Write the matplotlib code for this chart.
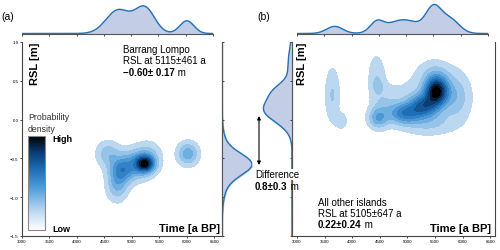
import numpy as np
import matplotlib
matplotlib.use("Agg")
import matplotlib.pyplot as plt
from matplotlib.colors import LinearSegmentedColormap
from matplotlib.cm import ScalarMappable

plt.rcParams["font.family"] = ["Liberation Sans", "DejaVu Sans"]

# ---- data ----
# 2D density, panel (a) Barrang Lompo: mixture components
a_age = [5240, 5050, 4800, 4560, 4730, 5300, 6020]
a_rsl = [-0.57, -0.58, -0.66, -0.44, -0.86, -0.45, -0.44]
a_sd_age = [110, 230, 140, 140, 130, 160, 130]
a_sd_rsl = [0.07, 0.13, 0.11, 0.11, 0.13, 0.12, 0.10]
a_w = [1.0, 0.5, 0.45, 0.30, 0.35, 0.20, 0.45]

# 2D density, panel (b) all other islands
b_age = [5530, 5300, 4950, 4470, 5300, 5900, 5500, 4440, 4600, 4470, 3640, 3810, 5400]
b_rsl = [0.37, 0.18, 0.08, 0.02, 0.25, 0.30, 0.60, 0.55, 0.20, 0.43, 0.32, -0.02, -0.05]
b_sd_age = [140, 180, 190, 120, 500, 160, 200, 100, 150, 70, 90, 80, 300]
b_sd_rsl = [0.12, 0.10, 0.09, 0.09, 0.25, 0.20, 0.12, 0.20, 0.15, 0.05, 0.24, 0.08, 0.10]
b_w = [1.0, 0.6, 0.5, 0.35, 0.12, 0.20, 0.15, 0.16, 0.12, 0.08, 0.19, 0.12, 0.15]

# marginal densities (centre, spread, height)
a_top_age = [4760, 5250, 6020]
a_top_sd = [220, 180, 130]
a_top_h = [23, 25, 12.5]
a_side_rsl = [-0.575, -0.60]
a_side_sd = [0.13, 0.25]
a_side_h = [22, 8]
b_top_age = [3690, 4460, 4950, 5500, 5800]
b_top_sd = [150, 120, 300, 140, 170]
b_top_h = [7, 9.5, 13.5, 23, 14]
b_side_rsl = [0.13, 0.38, 0.70]
b_side_sd = [0.16, 0.10, 0.20]
b_side_h = [28, 10, 4]

age_ticks = [3000, 3500, 4000, 4500, 5000, 5500, 6000, 6500]
rsl_ticks = [-1.5, -1.0, -0.5, 0.0, 0.5, 1.0]

W, H = 500, 251
line_col = "#2272b5"
fill_col = "#c3cde6"
cmap = LinearSegmentedColormap.from_list(
    "bk", [(0.0, "#ffffff"), (0.2, "#bcd8f0"), (0.45, "#4f9cd9"),
           (0.65, "#1a6cb4"), (0.83, "#0b3a70"), (1.0, "#000000")])


def box(left, top, right, bottom):
    return [left / W, 1 - bottom / H, (right - left) / W, (bottom - top) / H]


def mix1(x, c, s, h):
    y = np.zeros_like(x)
    for ci, si, hi in zip(c, s, h):
        y += hi * np.exp(-(x - ci) ** 2 / (2 * si ** 2))
    return y


def mix2(X, Y, ax_, ay_, sx, sy, w):
    Z = np.zeros_like(X)
    for cx, cy, s1, s2, wi in zip(ax_, ay_, sx, sy, w):
        Z += wi * np.exp(-(X - cx) ** 2 / (2 * s1 ** 2) - (Y - cy) ** 2 / (2 * s2 ** 2))
    return Z


gx, gy = np.meshgrid(np.linspace(2800, 6800, 400), np.linspace(-1.8, 1.3, 400))


def density(ax, comps, lo=0.06):
    Z = mix2(gx, gy, *comps)
    lv = np.linspace(lo, 1.0, 11) * Z.max()
    cols = [cmap(v) for v in np.linspace(0.2, 1.0, len(lv) - 1)]
    ax.contourf(gx, gy, Z, levels=lv, colors=cols, zorder=1)


fig = plt.figure(figsize=(5, 2.51), dpi=100)

# ---- panel (a) ----
axA = fig.add_axes(box(22, 43, 222, 237))
density(axA, (a_age, a_rsl, a_sd_age, a_sd_rsl, a_w))
axA.set_xlim(3000, 6640)
axA.set_ylim(-1.5, 1.0)
axA.spines["top"].set_visible(False)
axA.set_xticks(age_ticks)
axA.set_yticks(rsl_ticks)
axA.tick_params(labelsize=3.2, length=1.5, width=0.5, pad=1)
axA.tick_params(axis="y", labelright=False, right=False)
for s in axA.spines.values():
    s.set_linewidth(0.8)
    s.set_color("#444444")

axAt = fig.add_axes(box(22, 4, 213, 34.5))
xs = np.linspace(3000, 6500, 400)
yt = mix1(xs, a_top_age, a_top_sd, a_top_h)
axAt.fill_between(xs, 0, yt, color=fill_col)
axAt.plot(xs, yt, color=line_col, lw=1)
axAt.set_xlim(3000, 6500)
axAt.set_ylim(0, 30)

axAs = fig.add_axes(box(222, 43, 252, 237))
ys = np.linspace(-1.5, 1.0, 400)
xa = mix1(ys, a_side_rsl, a_side_sd, a_side_h)
axAs.fill_betweenx(ys, 0, xa, color=fill_col)
axAs.plot(xa, ys, color=line_col, lw=1)
axAs.set_xlim(0, 30)
axAs.set_ylim(-1.5, 1.0)

# ---- panel (b) ----
axB = fig.add_axes(box(292, 43, 495, 237))
density(axB, (b_age, b_rsl, b_sd_age, b_sd_rsl, b_w))
axB.set_xlim(2909, 6587)
axB.set_ylim(-1.5, 1.0)
axB.spines["top"].set_visible(False)
axB.set_xticks(age_ticks)
axB.set_yticks([])
axB.tick_params(labelsize=3.2, length=1.5, width=0.5, pad=1)
for s in axB.spines.values():
    s.set_linewidth(0.8)
    s.set_color("#444444")

axBt = fig.add_axes(box(297, 4, 488, 34.5))
yb = mix1(xs, b_top_age, b_top_sd, b_top_h)
axBt.fill_between(xs, 0, yb, color=fill_col)
axBt.plot(xs, yb, color=line_col, lw=1)
axBt.set_xlim(3000, 6500)
axBt.set_ylim(0, 30)

axBs = fig.add_axes(box(262, 43, 292, 237))
xb = mix1(ys, b_side_rsl, b_side_sd, b_side_h)
axBs.fill_betweenx(ys, 0, xb, color=fill_col)
axBs.plot(xb, ys, color=line_col, lw=1)
axBs.set_xlim(30, 0)
axBs.set_ylim(-1.5, 1.0)

for ax in (axAt, axBt):
    ax.patch.set_alpha(0)
    for k in ("top", "left", "right"):
        ax.spines[k].set_visible(False)
    ax.spines["bottom"].set_color("#555555")
    ax.spines["bottom"].set_linewidth(0.8)
    ax.set_xticks(age_ticks)
    ax.set_xticklabels([])
    ax.set_yticks([])
    ax.tick_params(length=1.5, width=0.5)

for ax, side in ((axAs, "left"), (axBs, "right")):
    ax.patch.set_alpha(0)
    for k in ("top", "bottom", "left", "right"):
        ax.spines[k].set_visible(k == side)
    ax.spines[side].set_color("#555555")
    ax.spines[side].set_linewidth(0.8)
    ax.set_xticks([])
    ax.set_yticks(rsl_ticks)
    ax.set_yticklabels([])
    ax.tick_params(axis="y", direction="in", length=1.5, width=0.5,
                   left=(side == "left"), right=(side == "right"))

# colour bar
cax = fig.add_axes(box(28, 137, 45, 231))
cb = fig.colorbar(ScalarMappable(cmap=cmap), cax=cax, ticks=[])
cb.outline.set_edgecolor("#888888")
cb.outline.set_linewidth(0.8)


# ---- text ----
def tx(px, py, s, **kw):
    kw.setdefault("fontsize", 7)
    kw.setdefault("va", "center")
    kw.setdefault("zorder", 10)
    return fig.text(px / W, 1 - py / H, s, **kw)


tx(8, 17, "(a)", ha="center", fontsize=7.5)
tx(264, 17, "(b)", ha="center", fontsize=7.5)

tx(35, 43, "RSL [m]", rotation=90, va="top", ha="center", fontweight="bold", fontsize=8)
tx(302, 43, "RSL [m]", rotation=90, va="top", ha="center", fontweight="bold", fontsize=8)
tx(220, 229, "Time [a BP]", ha="right", fontweight="bold", fontsize=8)
tx(491, 229, "Time [a BP]", ha="right", fontweight="bold", fontsize=8)

tx(123, 50, "Barrang Lompo")
tx(123, 61.5, "RSL at 5115\u00b1461 a")
tx(28, 118, "Probability", fontsize=6.3, color="#333333")
tx(28, 130, "density", fontsize=6.3, color="#333333")
tx(52, 140, "High", fontweight="bold", fontsize=6.5)
tx(52, 230, "Low", fontweight="bold", fontsize=6.5)
tx(318, 203, "All other islands")
tx(318, 214, "RSL at 5105\u00b1647 a")
tx(255, 175.5, "Difference",
   bbox=dict(facecolor="white", edgecolor="none", pad=0.5))

# bold value followed by a plain unit
mixed = [(123, 73, "\u22120.60\u00b1 0.17"), (318, 225, "0.22\u00b10.24"),
         (255, 186.5, "0.8\u00b10.3")]
bold_texts = [tx(px, py, s, fontweight="bold") for px, py, s in mixed]
fig.canvas.draw()
for t, (px, py, s) in zip(bold_texts, mixed):
    bb = t.get_window_extent()
    fig.text(bb.x1 / W, 1 - py / H, " m", fontsize=7, va="center", zorder=10)

axA.annotate("", xy=(259 / W, 1 - 117 / H), xytext=(259 / W, 1 - 166 / H),
             xycoords="figure fraction", textcoords="figure fraction",
             arrowprops=dict(arrowstyle="<|-|>", color="black", lw=0.8,
                             mutation_scale=5, shrinkA=0, shrinkB=0),
             annotation_clip=False)

fig.savefig("out.png", dpi=100)
